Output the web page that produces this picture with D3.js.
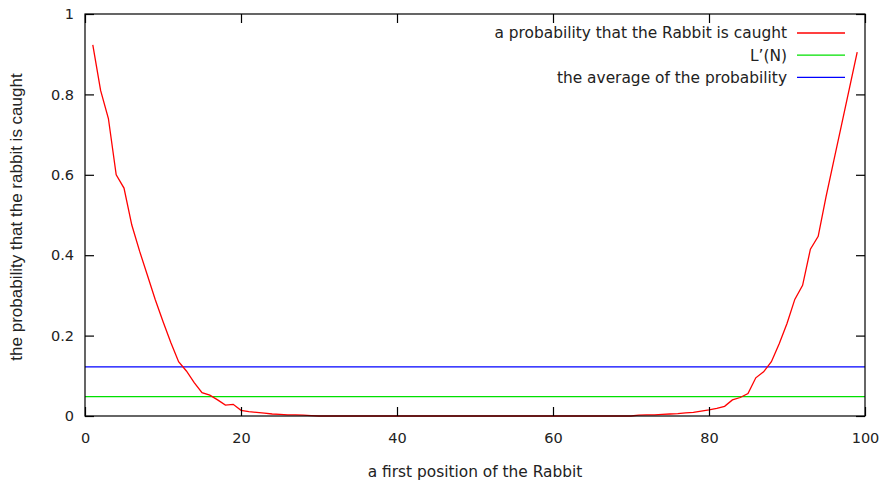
<!DOCTYPE html>
<html>
<head>
<meta charset="utf-8">
<script src="https://cdn.jsdelivr.net/npm/d3@7"></script>
<style>
  body { margin: 0; background: #fff; }
  text { font-family: "DejaVu Sans", sans-serif; fill: #222; }
</style>
</head>
<body>
<svg id="chart"></svg>
<script>
// first position of the rabbit (1..99)
var positions = d3.range(1, 100);
// probability that the rabbit is caught
var caught = [
  0.923, 0.81, 0.74, 0.60, 0.567, 0.475, 0.41, 0.35, 0.29, 0.235,
  0.183, 0.135, 0.112, 0.083, 0.058, 0.052, 0.04, 0.027, 0.029, 0.014,
  0.011, 0.009, 0.007, 0.005, 0.004, 0.003, 0.003, 0.002, 0.001, 0,
  0, 0, 0, 0, 0, 0, 0, 0, 0, 0,
  0, 0, 0, 0, 0, 0, 0, 0, 0, 0,
  0, 0, 0, 0, 0, 0, 0, 0, 0, 0,
  0, 0, 0, 0, 0, 0, 0, 0, 0, 0,
  0.002, 0.003, 0.003, 0.004, 0.005, 0.006, 0.008, 0.009, 0.012, 0.015,
  0.019, 0.024, 0.04, 0.046, 0.056, 0.095, 0.11, 0.135, 0.18, 0.23,
  0.29, 0.325, 0.415, 0.447, 0.545, 0.635, 0.725, 0.815, 0.905
];
var lPrime = 0.048;      // L'(N)
var average = 0.122;     // the average of the probability
var xTicks = [0, 20, 40, 60, 80, 100];
var yTicks = [0, 0.2, 0.4, 0.6, 0.8, 1];
var legendNames = ["a probability that the Rabbit is caught", "L\u2019(N)", "the average of the probability"];
var legendColors = ["#ff0000", "#00e000", "#0000ff"];

var W = 884, H = 483;
var margin = {top: 14, right: 19, bottom: 67, left: 85};
var width = W - margin.left - margin.right,
    height = H - margin.top - margin.bottom;

var svg = d3.select("#chart").attr("width", W).attr("height", H);
var g = svg.append("g").attr("transform", "translate(" + margin.left + "," + margin.top + ")");

var x = d3.scaleLinear().domain([0, 100]).range([0, width]);
var y = d3.scaleLinear().domain([0, 1]).range([height, 0]);

// horizontal reference lines
g.append("line")
  .attr("x1", 0).attr("x2", width)
  .attr("y1", y(lPrime)).attr("y2", y(lPrime))
  .attr("stroke", legendColors[1]).attr("stroke-width", 1.3);
g.append("line")
  .attr("x1", 0).attr("x2", width)
  .attr("y1", y(average)).attr("y2", y(average))
  .attr("stroke", legendColors[2]).attr("stroke-width", 1.3);

var line = d3.line()
  .x(function(d, i) { return x(positions[i]); })
  .y(function(d) { return y(d); });

g.append("path")
  .datum(caught)
  .attr("fill", "none")
  .attr("stroke", legendColors[0])
  .attr("stroke-width", 1.3)
  .attr("d", line);

// axes (ticks inward, mirrored on top/right)
var tickLen = 9;
g.append("g").attr("transform", "translate(0," + height + ")")
  .call(d3.axisBottom(x).tickValues(xTicks).tickSize(-tickLen).tickPadding(17).tickFormat(d3.format("d")));
g.append("g")
  .call(d3.axisTop(x).tickValues(xTicks).tickSize(-tickLen).tickFormat(""));
g.append("g")
  .call(d3.axisLeft(y).tickValues(yTicks).tickSize(-tickLen).tickPadding(11).tickFormat(function(d) { return d3.format("")(+d.toFixed(1)); }));
g.append("g").attr("transform", "translate(" + width + ",0)")
  .call(d3.axisRight(y).tickValues(yTicks).tickSize(-tickLen).tickFormat(""));

g.selectAll(".domain").remove();
g.selectAll(".tick line").attr("stroke", "#000").attr("stroke-width", 1.2);
g.selectAll(".tick text").style("font-size", "14.5px").style("font-family", "DejaVu Sans, sans-serif").attr("fill", "#222");

g.append("rect")
  .attr("width", width).attr("height", height)
  .attr("fill", "none").attr("stroke", "#000").attr("stroke-width", 1.2);

// legend
var legend = g.append("g").attr("transform", "translate(" + (width - 78) + ",19)");
legendNames.forEach(function(name, i) {
  var row = legend.append("g").attr("transform", "translate(0," + (i * 22.2) + ")");
  row.append("text").attr("x", 0).attr("y", 0).attr("dy", "0.35em")
    .attr("text-anchor", "end").style("font-size", "15.4px").text(name);
  row.append("line").attr("x1", 10).attr("x2", 58)
    .attr("stroke", legendColors[i]).attr("stroke-width", 1.3);
});

// axis titles
svg.append("text")
  .attr("x", margin.left + width / 2).attr("y", 477)
  .attr("text-anchor", "middle").style("font-size", "15.4px")
  .text("a first position of the Rabbit");
svg.append("text")
  .attr("transform", "translate(22," + (margin.top + height / 2 + 2) + ") rotate(-90)")
  .attr("text-anchor", "middle")
  .style("font-family", "Liberation Sans, Arial, sans-serif").style("font-size", "17px")
  .text("the probability that the rabbit is caught");
</script>
</body>
</html>
